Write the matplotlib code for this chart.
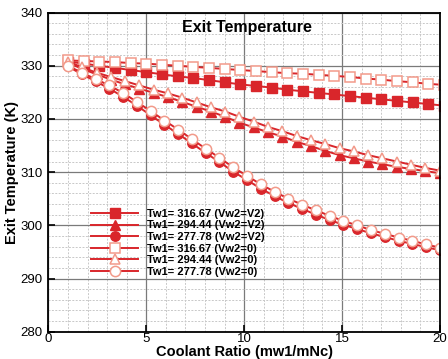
import numpy as np
import matplotlib
matplotlib.use("Agg")
import matplotlib.pyplot as plt

plt.rcParams['font.family'] = ['Liberation Sans', 'DejaVu Sans']

# marker positions (coolant ratio) for each family of curves
x_sq = [1.0, 1.8, 2.6, 3.4, 4.2, 5.0, 5.8, 6.6, 7.4, 8.2, 9.0, 9.8, 10.6, 11.4, 12.2,
        13.0, 13.8, 14.6, 15.4, 16.2, 17.0, 17.8, 18.6, 19.4, 20.2]
x_tri = [1.00, 1.73, 2.46, 3.19, 3.92, 4.65, 5.38, 6.11, 6.84, 7.57, 8.30, 9.03, 9.76,
         10.49, 11.22, 11.95, 12.68, 13.41, 14.14, 14.87, 15.60, 16.33, 17.06, 17.79,
         18.52, 19.25, 19.98]
x_circ = [1.00, 1.70, 2.41, 3.11, 3.81, 4.52, 5.22, 5.93, 6.63, 7.33, 8.04, 8.74, 9.44,
          10.15, 10.85, 11.56, 12.26, 12.96, 13.67, 14.37, 15.07, 15.78, 16.48, 17.19,
          17.89, 18.59, 19.30, 20.00]

# exit temperature (K)
t_316_v2 = [330.8, 330.4, 330.0, 329.6, 329.2, 328.8, 328.4, 328.0, 327.7, 327.3, 326.9,
            326.5, 326.2, 325.9, 325.5, 325.2, 324.9, 324.6, 324.3, 324.0, 323.7, 323.4,
            323.1, 322.8, 322.5]
t_316_0 = [331.0, 330.9, 330.8, 330.7, 330.5, 330.4, 330.2, 330.0, 329.8, 329.6, 329.4,
           329.2, 329.0, 328.8, 328.6, 328.5, 328.3, 328.1, 327.9, 327.6, 327.4, 327.1,
           326.9, 326.6, 326.4]
t_294_v2 = [330.6, 329.4, 328.4, 327.4, 326.5, 325.7, 324.9, 324.1, 323.2, 322.3, 321.4,
            320.4, 319.3, 318.4, 317.5, 316.7, 315.7, 314.9, 314.0, 313.2, 312.6, 312.0,
            311.5, 311.0, 310.6, 310.2, 309.8]
t_294_0 = [330.8, 329.7, 328.7, 327.9, 327.1, 326.3, 325.5, 324.8, 324.0, 323.1, 322.2,
           321.4, 320.4, 319.5, 318.5, 317.7, 316.8, 316.0, 315.3, 314.5, 313.9, 313.2,
           312.6, 312.0, 311.4, 310.8, 310.3]
t_277_v2 = [329.9, 328.4, 327.1, 325.7, 324.2, 322.5, 320.7, 318.9, 317.2, 315.4, 313.6,
            311.9, 310.1, 308.5, 306.9, 305.5, 304.2, 303.1, 302.0, 301.0, 300.1, 299.3,
            298.5, 297.8, 297.1, 296.5, 295.9, 295.3]
t_277_0 = [330.0, 328.7, 327.5, 326.3, 324.9, 323.2, 321.5, 319.7, 318.0, 316.2, 314.4,
           312.7, 310.9, 309.3, 307.7, 306.3, 305.0, 303.9, 302.8, 301.8, 300.8, 300.0,
           299.1, 298.4, 297.7, 297.1, 296.4, 295.8]

labels = ["Tw1= 316.67 (Vw2=V2)", "Tw1= 294.44 (Vw2=V2)", "Tw1= 277.78 (Vw2=V2)",
          "Tw1= 316.67 (Vw2=0)", "Tw1= 294.44 (Vw2=0)", "Tw1= 277.78 (Vw2=0)"]

red = '#d9262b'
pale = '#f29a8a'

fig = plt.figure(figsize=(4.48, 3.59), dpi=100)
ax = fig.add_axes([0.108, 0.076, 0.874, 0.889])

ms = 6.8
lw = 1.4
filled = dict(color=red, lw=lw, markersize=ms, markerfacecolor=red, markeredgecolor=red)
hollow = dict(color=red, lw=lw, markersize=ms + 0.6, markerfacecolor='white',
              markeredgecolor=pale, markeredgewidth=1.1)

l1, = ax.plot(x_sq, t_316_v2, marker='s', **filled)
l2, = ax.plot(x_tri, t_294_v2, marker='^', **filled)
l3, = ax.plot(x_circ, t_277_v2, marker='o', **filled)
l4, = ax.plot(x_sq, t_316_0, marker='s', **hollow)
l5, = ax.plot(x_tri, t_294_0, marker='^', **hollow)
l6, = ax.plot(x_circ, t_277_0, marker='o', **hollow)

ax.set_xlim(0, 20)
ax.set_ylim(280, 340)
ax.set_xticks([0, 5, 10, 15, 20])
ax.set_yticks([280, 290, 300, 310, 320, 330, 340])
ax.set_xticks(np.arange(0, 21, 1), minor=True)
ax.set_yticks(np.arange(280, 341, 2), minor=True)

ax.grid(True, which='major', color='#7a7a7a', lw=0.9, ls='-')
ax.grid(True, which='minor', color='#c8c8c8', lw=0.7, ls=(0, (2, 1.5)))
ax.set_axisbelow(True)

ax.tick_params(which='major', direction='in', length=5, width=1.2, labelsize=9.5)
ax.tick_params(axis='x', pad=1)
ax.tick_params(axis='y', pad=4)
ax.tick_params(which='minor', length=0)
for s in ax.spines.values():
    s.set_linewidth(1.3)

ax.set_xlabel("Coolant Ratio (mw1/mNc)", fontsize=10.5, fontweight='bold', labelpad=0)
ax.set_ylabel("Exit Temperature (K)", fontsize=10.5, fontweight='bold', labelpad=1)
ax.text(0.508, 0.952, "Exit Temperature", transform=ax.transAxes, ha='center', va='center',
        fontsize=11.5, fontweight='bold')

leg = ax.legend([l1, l2, l3, l4, l5, l6], labels, loc='upper left',
                bbox_to_anchor=(0.108, 0.385), frameon=False, borderpad=0,
                borderaxespad=0, handlelength=4.3, handletextpad=0.8, labelspacing=0.14,
                prop={'size': 8, 'weight': 'bold'})

fig.savefig("out.png", dpi=100)
